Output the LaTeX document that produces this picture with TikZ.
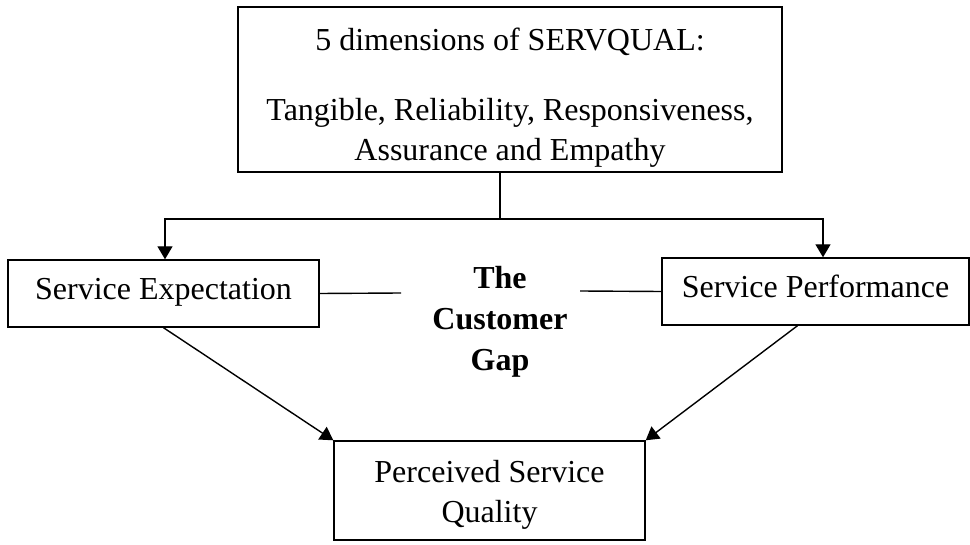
\documentclass[tikz,border=0pt]{standalone}
\usepackage{fontspec}
\setmainfont{Liberation Serif}
\usetikzlibrary{arrows.meta}

\begin{document}
\begin{tikzpicture}[x=0.5pt, y=-0.5pt,
    box/.style={draw, rectangle, line width=0.7pt, inner sep=0pt, align=center, font=\fontsize{16}{20}\selectfont},
    link/.style={line width=0.7pt},
    arr/.style={line width=0.7pt, -{Triangle[length=6.5pt,width=7.5pt]}}]
            \useasboundingbox (0,0) rectangle (970,545);

            \node[box, minimum width=272pt, minimum height=82.5pt, text depth=0pt] (servqual) at (510,89.5) {\rule{0pt}{16pt}5 dimensions of SERVQUAL:\\[15pt]Tangible, Reliability, Responsiveness,\\Assurance and Empathy};
            \node[box, minimum width=155.5pt, minimum height=33.5pt, text height=10pt, text depth=3.5pt] (expect) at (163.5,293.5) {Service Expectation};
            \node[box, minimum width=153.5pt, minimum height=33.5pt, text height=10pt, text depth=3.5pt] (perform) at (815.5,291.5) {Service Performance};
            \node[box, minimum width=155.5pt, minimum height=49.5pt, text depth=0pt, font=\fontsize{16}{20.5}\selectfont] (quality) at (489.5,490.5) {\rule{0pt}{12pt}Perceived Service\\Quality};
            \node[align=center, inner sep=0pt, font=\fontsize{16}{20.5}\selectfont\bfseries] (gap) at (500,322) {The\\Customer\\Gap};

            \coordinate (split) at (500,219);
            \coordinate (leftturn) at (165,219);
            \coordinate (rightturn) at (823,219);
            \coordinate (gapleft) at (401,293);
            \coordinate (gapright) at (580,291);

            \draw[link] (split |- servqual.south) -- (split);
            \draw[arr] (split) -- (leftturn) -- (leftturn |- expect.north);
            \draw[arr] (split) -- (rightturn) -- (rightturn |- perform.north);
            \draw[link] (expect.east) -- (gapleft);
            \draw[link] (gapright) -- (perform.west);
            \draw[arr] (expect.south) -- (quality.north west);
            \draw[arr] ([xshift=-9pt]perform.south) -- (quality.north east);
        \end{tikzpicture}
\end{document}
